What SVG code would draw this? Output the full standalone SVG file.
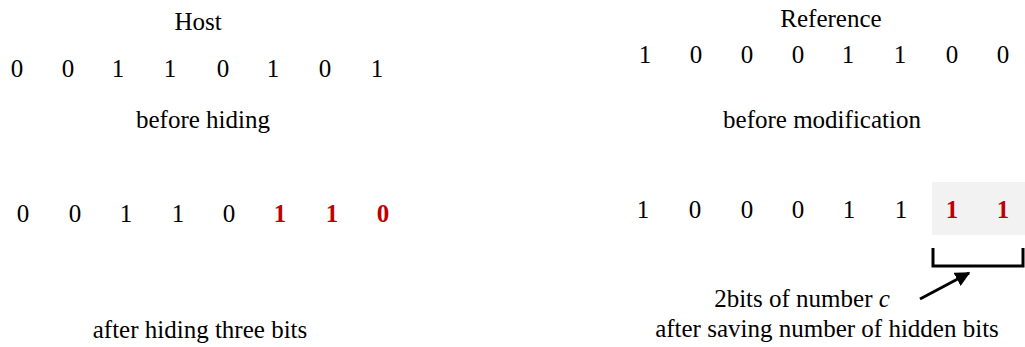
<svg xmlns="http://www.w3.org/2000/svg" width="1025" height="347" viewBox="0 0 1025 347">
<style>
text{font-family:'Liberation Serif','Times New Roman',Tinos,'DejaVu Serif',serif;font-size:25px;fill:#000;text-anchor:middle}
.r{fill:#C00000;font-weight:bold}
.i{font-style:italic}
</style>
<defs>
<marker id="ah" viewBox="0 0 10 10" refX="9" refY="5" markerWidth="5" markerHeight="5" orient="auto" markerUnits="strokeWidth">
<path d="M0,0 L10,5 L0,10 z" fill="#000"/>
</marker>
</defs>
<rect width="1025" height="347" fill="#fff"/>
<g font-family="Liberation Serif, Times New Roman, DejaVu Serif, serif">
<g id="host-before">
<text x="198" y="30">Host</text>
<text x="17" y="77">0</text><text x="68" y="77">0</text><text x="118" y="77">1</text><text x="170" y="77">1</text>
<text x="223" y="77">0</text><text x="273" y="77">1</text><text x="325" y="77">0</text><text x="377" y="77">1</text>
<text x="203" y="128">before hiding</text>
</g>
<g id="ref-before">
<text x="831" y="27">Reference</text>
<text x="645" y="63">1</text><text x="696" y="63">0</text><text x="747" y="63">0</text><text x="798" y="63">0</text>
<text x="848" y="63">1</text><text x="900" y="63">1</text><text x="952" y="63">0</text><text x="1003" y="63">0</text>
<text x="822" y="128">before modification</text>
</g>
<g id="host-after">
<text x="23" y="222">0</text><text x="75" y="222">0</text><text x="126" y="222">1</text><text x="178" y="222">1</text>
<text x="229" y="222">0</text><text class="r" x="280" y="222">1</text><text class="r" x="332" y="222">1</text><text class="r" x="383" y="222">0</text>
<text x="200" y="338">after hiding three bits</text>
</g>
<g id="ref-after">
<rect x="932" y="182" width="93" height="53" fill="#F2F2F2"/>
<text x="643" y="218">1</text><text x="695" y="218">0</text><text x="747" y="218">0</text><text x="798" y="218">0</text>
<text x="849" y="218">1</text><text x="901" y="218">1</text><text class="r" x="952" y="218">1</text><text class="r" x="1003" y="218">1</text>
<text x="827" y="337">after saving number of hidden bits</text>
</g>
<g id="label-c">
<text x="802" y="307">2bits of number <tspan class="i">c</tspan></text>
</g>
</g>
<g id="connectors" fill="none" stroke="#000">
<path d="M933,248 V266 H1023 V248" stroke-width="3"/>
<line x1="920" y1="299" x2="969" y2="273" stroke-width="3" marker-end="url(#ah)"/>
</g>
</svg>
